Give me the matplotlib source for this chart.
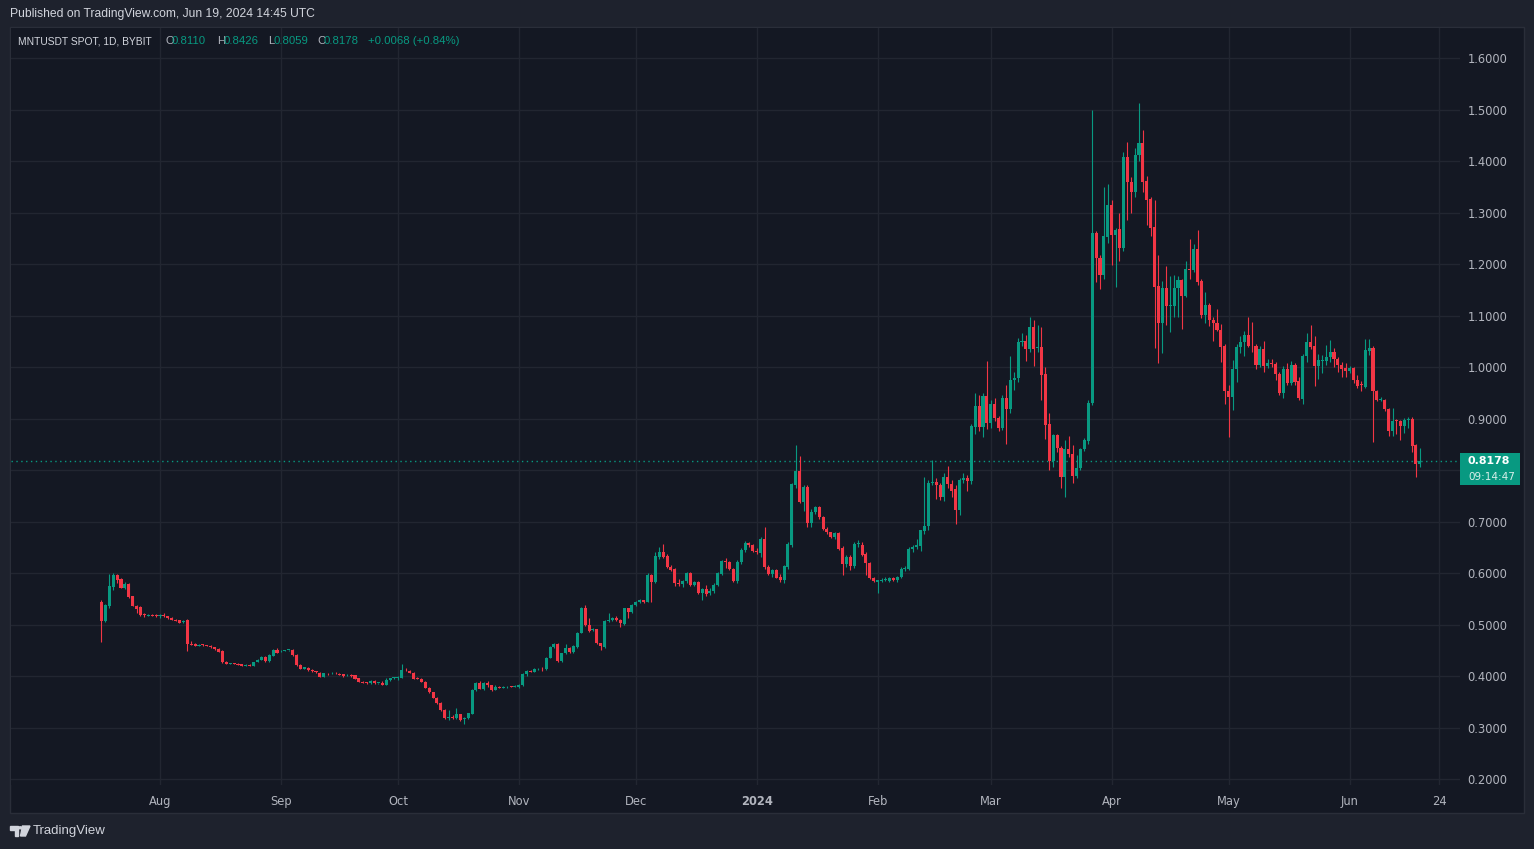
import matplotlib
matplotlib.use("Agg")
import matplotlib.pyplot as plt
import matplotlib.dates as mdates
from matplotlib.patches import Rectangle, Polygon, Circle
import numpy as np
import pandas as pd

# ── daily candles MNTUSDT (Bybit), 2023-07-17 .. 2024-06-19 ─────────────────
start_date = "2023-07-17"

opens = [
    # Jul
    0.544, 0.507, 0.536, 0.573, 0.596, 0.588, 0.571, 0.579, 0.555, 0.536, 0.534, 0.519, 0.517, 0.519, 0.518,
    # Aug
    0.516, 0.519, 0.516, 0.513, 0.509, 0.508, 0.504, 0.509, 0.462, 0.462, 0.459, 0.461, 0.460, 0.459, 0.456, 0.453,
    0.449, 0.428, 0.424, 0.425, 0.424, 0.423, 0.420, 0.422, 0.420, 0.428, 0.432, 0.437, 0.429, 0.439, 0.451,
    # Sep
    0.448, 0.449, 0.450, 0.451, 0.441, 0.422, 0.414, 0.416, 0.412, 0.409, 0.406, 0.399, 0.404, 0.405, 0.406,
    0.404, 0.403, 0.401, 0.402, 0.401, 0.396, 0.389, 0.388, 0.386, 0.391, 0.386, 0.386, 0.383, 0.392, 0.396,
    # Oct
    0.397, 0.397, 0.412, 0.410, 0.406, 0.396, 0.395, 0.389, 0.377, 0.368, 0.358, 0.348, 0.334, 0.318, 0.321, 0.318,
    0.326, 0.316, 0.318, 0.327, 0.373, 0.387, 0.375, 0.386, 0.382, 0.373, 0.378, 0.377, 0.378, 0.380, 0.379,
    # Nov
    0.379, 0.382, 0.404, 0.410, 0.408, 0.413, 0.414, 0.413, 0.435, 0.456, 0.462, 0.429, 0.444, 0.454, 0.447,
    0.456, 0.484, 0.532, 0.499, 0.490, 0.491, 0.464, 0.456, 0.506, 0.508, 0.513, 0.509, 0.501, 0.532, 0.525,
    # Dec
    0.538, 0.543, 0.547, 0.544, 0.596, 0.582, 0.631, 0.641, 0.633, 0.612, 0.608, 0.580, 0.578, 0.584, 0.600, 0.577,
    0.582, 0.561, 0.568, 0.561, 0.565, 0.577, 0.599, 0.623, 0.621, 0.607, 0.585, 0.621, 0.645, 0.658, 0.654,
    # Jan
    0.642, 0.639, 0.666, 0.612, 0.598, 0.605, 0.593, 0.586, 0.612, 0.654, 0.771, 0.798, 0.738, 0.767, 0.697, 0.719,
    0.729, 0.709, 0.686, 0.679, 0.670, 0.677, 0.649, 0.617, 0.631, 0.613, 0.657, 0.655, 0.637, 0.620, 0.590,
    # Feb
    0.583, 0.585, 0.586, 0.585, 0.590, 0.586, 0.592, 0.608, 0.608, 0.647, 0.651, 0.652, 0.682, 0.691, 0.775,
    0.776, 0.771, 0.748, 0.787, 0.773, 0.763, 0.722, 0.780, 0.784, 0.779, 0.884, 0.924, 0.884, 0.944,
    # Mar
    0.892, 0.929, 0.901, 0.882, 0.940, 0.918, 0.975, 0.979, 1.049, 1.050, 1.035, 1.077, 1.036, 1.039, 0.986, 0.889,
    0.817, 0.868, 0.843, 0.786, 0.840, 0.831, 0.788, 0.803, 0.840, 0.857, 0.930, 1.260, 1.212, 1.179, 1.252,
    # Apr
    1.314, 1.257, 1.268, 1.232, 1.408, 1.360, 1.339, 1.412, 1.435, 1.361, 1.326, 1.272, 1.157, 1.085, 1.153,
    1.118, 1.119, 1.153, 1.169, 1.138, 1.190, 1.188, 1.229, 1.167, 1.101, 1.120, 1.091, 1.086, 1.072, 1.041,
    # May
    0.954, 0.942, 0.996, 1.039, 1.049, 1.062, 1.041, 1.041, 1.004, 1.035, 1.001, 1.008, 1.006, 0.986, 0.950, 0.996,
    0.969, 1.004, 0.973, 0.937, 1.021, 1.049, 1.041, 1.001, 1.012, 1.012, 1.020, 1.029, 1.016, 1.003, 0.998,
    # Jun
    0.993, 0.998, 0.975, 0.966, 0.962, 1.032, 1.037, 0.954, 0.936, 0.935, 0.919, 0.876, 0.896, 0.896, 0.886,
    0.897, 0.899, 0.849, 0.8110,
]

highs = [
    0.548, 0.540, 0.598, 0.600, 0.598, 0.590, 0.582, 0.581, 0.556, 0.537, 0.535, 0.522, 0.520, 0.520, 0.520,
    0.520, 0.523, 0.517, 0.514, 0.510, 0.509, 0.508, 0.510, 0.468, 0.464, 0.462, 0.462, 0.461, 0.460, 0.457, 0.454,
    0.450, 0.430, 0.426, 0.426, 0.425, 0.424, 0.424, 0.423, 0.428, 0.433, 0.438, 0.439, 0.442, 0.452, 0.455,
    0.451, 0.451, 0.451, 0.453, 0.442, 0.423, 0.418, 0.417, 0.413, 0.410, 0.407, 0.406, 0.405, 0.407, 0.407,
    0.405, 0.404, 0.404, 0.403, 0.402, 0.397, 0.390, 0.389, 0.392, 0.392, 0.387, 0.391, 0.397, 0.397, 0.398,
    0.400, 0.423, 0.415, 0.411, 0.407, 0.398, 0.396, 0.390, 0.378, 0.369, 0.359, 0.349, 0.335, 0.334, 0.325, 0.337,
    0.327, 0.320, 0.329, 0.375, 0.389, 0.390, 0.388, 0.391, 0.383, 0.382, 0.380, 0.381, 0.380, 0.381, 0.382,
    0.384, 0.406, 0.412, 0.411, 0.415, 0.416, 0.418, 0.437, 0.458, 0.465, 0.464, 0.445, 0.462, 0.456, 0.460,
    0.485, 0.534, 0.537, 0.513, 0.494, 0.492, 0.465, 0.508, 0.522, 0.514, 0.516, 0.510, 0.533, 0.533, 0.540,
    0.545, 0.549, 0.548, 0.600, 0.599, 0.640, 0.650, 0.656, 0.636, 0.615, 0.610, 0.588, 0.586, 0.602, 0.601, 0.585,
    0.584, 0.570, 0.577, 0.570, 0.580, 0.602, 0.626, 0.630, 0.624, 0.609, 0.625, 0.648, 0.662, 0.660, 0.656,
    0.648, 0.669, 0.689, 0.616, 0.607, 0.607, 0.598, 0.615, 0.660, 0.775, 0.848, 0.827, 0.770, 0.770, 0.725, 0.730,
    0.731, 0.711, 0.690, 0.680, 0.680, 0.679, 0.652, 0.634, 0.635, 0.660, 0.665, 0.660, 0.640, 0.622, 0.592,
    0.587, 0.590, 0.592, 0.592, 0.592, 0.595, 0.612, 0.614, 0.650, 0.655, 0.666, 0.684, 0.786, 0.780, 0.819,
    0.784, 0.775, 0.795, 0.807, 0.780, 0.770, 0.785, 0.794, 0.790, 0.890, 0.950, 0.945, 0.950, 1.012,
    0.935, 0.940, 0.905, 0.945, 0.966, 1.021, 0.990, 1.056, 1.066, 1.063, 1.097, 1.092, 1.082, 1.078, 1.000, 0.910,
    0.870, 0.870, 0.846, 0.858, 0.866, 0.848, 0.829, 0.843, 0.862, 0.935, 1.499, 1.265, 1.218, 1.350, 1.356,
    1.325, 1.270, 1.300, 1.418, 1.436, 1.368, 1.425, 1.513, 1.460, 1.370, 1.330, 1.325, 1.217, 1.167, 1.196,
    1.177, 1.179, 1.177, 1.171, 1.205, 1.249, 1.239, 1.266, 1.170, 1.146, 1.125, 1.097, 1.113, 1.083, 1.045,
    0.965, 1.014, 1.045, 1.060, 1.070, 1.097, 1.087, 1.045, 1.040, 1.050, 1.015, 1.015, 1.010, 0.990, 1.002, 1.008,
    1.012, 1.008, 0.980, 1.025, 1.067, 1.081, 1.060, 1.025, 1.023, 1.043, 1.052, 1.037, 1.020, 1.010, 1.008,
    1.002, 1.000, 0.985, 0.972, 1.054, 1.054, 1.040, 0.956, 0.941, 0.937, 0.921, 0.920, 0.899, 0.898, 0.901,
    0.902, 0.902, 0.851, 0.8426,
]

lows = [
    0.466, 0.505, 0.532, 0.567, 0.580, 0.570, 0.569, 0.552, 0.535, 0.522, 0.517, 0.515, 0.516, 0.516, 0.515,
    0.513, 0.515, 0.511, 0.508, 0.506, 0.502, 0.503, 0.449, 0.460, 0.458, 0.458, 0.459, 0.458, 0.455, 0.451, 0.446,
    0.426, 0.423, 0.423, 0.423, 0.421, 0.419, 0.419, 0.419, 0.419, 0.427, 0.431, 0.428, 0.428, 0.438, 0.444,
    0.446, 0.448, 0.449, 0.439, 0.420, 0.413, 0.413, 0.410, 0.408, 0.406, 0.398, 0.398, 0.402, 0.404, 0.404,
    0.401, 0.399, 0.400, 0.399, 0.394, 0.388, 0.386, 0.385, 0.385, 0.385, 0.385, 0.382, 0.382, 0.391, 0.395,
    0.393, 0.396, 0.409, 0.405, 0.394, 0.394, 0.388, 0.376, 0.367, 0.357, 0.346, 0.333, 0.317, 0.315, 0.317, 0.316,
    0.312, 0.307, 0.316, 0.326, 0.371, 0.374, 0.373, 0.378, 0.371, 0.372, 0.376, 0.376, 0.377, 0.378, 0.378,
    0.377, 0.381, 0.400, 0.407, 0.407, 0.412, 0.410, 0.412, 0.434, 0.455, 0.428, 0.428, 0.443, 0.445, 0.444,
    0.455, 0.483, 0.497, 0.486, 0.487, 0.463, 0.451, 0.455, 0.505, 0.507, 0.507, 0.496, 0.500, 0.513, 0.523,
    0.536, 0.542, 0.541, 0.543, 0.544, 0.580, 0.628, 0.630, 0.610, 0.604, 0.575, 0.575, 0.573, 0.580, 0.575, 0.575,
    0.559, 0.548, 0.556, 0.558, 0.562, 0.575, 0.597, 0.610, 0.605, 0.583, 0.580, 0.618, 0.641, 0.650, 0.640,
    0.636, 0.632, 0.607, 0.596, 0.593, 0.590, 0.583, 0.580, 0.608, 0.650, 0.765, 0.735, 0.720, 0.690, 0.690, 0.715,
    0.705, 0.684, 0.676, 0.668, 0.667, 0.645, 0.597, 0.612, 0.605, 0.610, 0.650, 0.633, 0.597, 0.589, 0.582,
    0.561, 0.583, 0.584, 0.583, 0.584, 0.583, 0.590, 0.604, 0.606, 0.640, 0.646, 0.642, 0.675, 0.683, 0.770,
    0.744, 0.741, 0.740, 0.765, 0.748, 0.695, 0.712, 0.775, 0.760, 0.772, 0.870, 0.875, 0.865, 0.880,
    0.882, 0.895, 0.875, 0.878, 0.850, 0.910, 0.955, 0.970, 1.040, 1.012, 1.030, 1.002, 1.030, 0.935, 0.860, 0.800,
    0.805, 0.835, 0.765, 0.747, 0.825, 0.775, 0.784, 0.800, 0.836, 0.850, 0.927, 1.165, 1.152, 1.170, 1.240,
    1.198, 1.156, 1.205, 1.225, 1.285, 1.300, 1.330, 1.400, 1.340, 1.275, 1.255, 1.037, 1.008, 1.027, 1.082,
    1.068, 1.097, 1.097, 1.074, 1.135, 1.170, 1.185, 1.160, 1.095, 1.086, 1.079, 1.051, 1.070, 1.010, 0.928,
    0.864, 0.917, 0.971, 1.027, 1.022, 1.038, 1.030, 0.997, 1.000, 0.990, 0.999, 1.000, 0.975, 0.945, 0.940, 0.965,
    0.965, 0.966, 0.935, 0.928, 1.010, 1.035, 0.964, 0.977, 0.989, 1.004, 1.010, 1.000, 0.990, 0.980, 0.980,
    0.989, 0.969, 0.960, 0.953, 0.960, 1.023, 0.854, 0.934, 0.934, 0.915, 0.866, 0.866, 0.869, 0.859, 0.872,
    0.881, 0.835, 0.786, 0.8059,
]

closes = [
    0.507, 0.538, 0.575, 0.596, 0.586, 0.571, 0.579, 0.553, 0.536, 0.530, 0.518, 0.518, 0.519, 0.517, 0.517,
    0.519, 0.516, 0.512, 0.509, 0.507, 0.503, 0.507, 0.462, 0.461, 0.459, 0.461, 0.460, 0.459, 0.456, 0.452, 0.447,
    0.427, 0.424, 0.425, 0.424, 0.422, 0.420, 0.422, 0.420, 0.427, 0.432, 0.437, 0.429, 0.441, 0.451, 0.445,
    0.449, 0.450, 0.451, 0.440, 0.421, 0.414, 0.417, 0.411, 0.409, 0.407, 0.399, 0.405, 0.403, 0.406, 0.405,
    0.402, 0.400, 0.402, 0.400, 0.395, 0.389, 0.387, 0.386, 0.391, 0.386, 0.386, 0.383, 0.392, 0.396, 0.397,
    0.398, 0.412, 0.411, 0.406, 0.395, 0.395, 0.389, 0.377, 0.368, 0.358, 0.347, 0.334, 0.319, 0.319, 0.318, 0.326,
    0.314, 0.318, 0.328, 0.373, 0.387, 0.375, 0.386, 0.382, 0.372, 0.378, 0.377, 0.378, 0.379, 0.379, 0.380,
    0.383, 0.404, 0.410, 0.408, 0.413, 0.414, 0.413, 0.435, 0.456, 0.462, 0.429, 0.444, 0.454, 0.446, 0.458,
    0.484, 0.532, 0.499, 0.488, 0.491, 0.464, 0.458, 0.507, 0.508, 0.513, 0.508, 0.503, 0.532, 0.525, 0.538,
    0.543, 0.547, 0.543, 0.596, 0.582, 0.633, 0.641, 0.632, 0.612, 0.606, 0.580, 0.579, 0.584, 0.600, 0.577, 0.583,
    0.561, 0.568, 0.560, 0.565, 0.577, 0.600, 0.623, 0.621, 0.607, 0.585, 0.621, 0.645, 0.658, 0.654, 0.642,
    0.641, 0.666, 0.612, 0.598, 0.605, 0.591, 0.586, 0.613, 0.656, 0.773, 0.798, 0.738, 0.767, 0.697, 0.719, 0.729,
    0.709, 0.686, 0.679, 0.670, 0.677, 0.647, 0.617, 0.631, 0.613, 0.657, 0.658, 0.635, 0.620, 0.590, 0.584,
    0.586, 0.586, 0.587, 0.590, 0.586, 0.592, 0.608, 0.609, 0.647, 0.651, 0.654, 0.683, 0.691, 0.775, 0.777,
    0.770, 0.748, 0.787, 0.772, 0.760, 0.722, 0.780, 0.784, 0.778, 0.886, 0.924, 0.884, 0.944, 0.892,
    0.929, 0.901, 0.881, 0.940, 0.918, 0.975, 0.979, 1.049, 1.050, 1.035, 1.077, 1.035, 1.038, 0.984, 0.887, 0.817,
    0.868, 0.843, 0.786, 0.840, 0.831, 0.788, 0.804, 0.840, 0.859, 0.931, 1.260, 1.212, 1.179, 1.255, 1.314,
    1.257, 1.266, 1.232, 1.408, 1.360, 1.339, 1.412, 1.435, 1.360, 1.324, 1.270, 1.155, 1.085, 1.153, 1.118,
    1.119, 1.153, 1.169, 1.138, 1.190, 1.189, 1.229, 1.166, 1.101, 1.120, 1.091, 1.086, 1.072, 1.039, 0.953,
    0.942, 0.996, 1.039, 1.049, 1.062, 1.041, 1.040, 1.004, 1.035, 1.001, 1.008, 1.006, 0.986, 0.950, 0.996, 0.969,
    1.004, 0.970, 0.940, 1.021, 1.048, 1.039, 1.001, 1.014, 1.013, 1.020, 1.029, 1.016, 1.003, 0.996, 0.993,
    0.998, 0.975, 0.964, 0.965, 1.033, 1.036, 0.954, 0.936, 0.937, 0.918, 0.876, 0.896, 0.895, 0.886, 0.897,
    0.899, 0.847, 0.811, 0.8178,
]

price_ticks = [0.2, 0.3, 0.4, 0.5, 0.6, 0.7, 0.8, 0.9, 1.0, 1.1, 1.2, 1.3, 1.4, 1.5, 1.6]
time_ticks = ["2023-08-01", "2023-09-01", "2023-10-01", "2023-11-01", "2023-12-01", "2024-01-01",
              "2024-02-01", "2024-03-01", "2024-04-01", "2024-05-01", "2024-06-01", "2024-06-24"]
time_labels = ["Aug", "Sep", "Oct", "Nov", "Dec", "2024", "Feb", "Mar", "Apr", "May", "Jun", "24"]

last_price = 0.8178
countdown = "09:14:47"

# ── style ────────────────────────────────────────────────────────────────────
W, H = 1534, 849
BG_OUT = "#1e222d"
BG_PANEL = "#141823"
GRID = "#222631"
TXT = "#b2b5be"
UP = "#089981"
DOWN = "#f23645"
HEAD_FONT = ["Liberation Sans", "DejaVu Sans"]
PX = 1 / 515  # one pixel in price units


def fx(px):
    return px / W


def fy(py):
    return 1 - py / H


fig = plt.figure(figsize=(W / 100, H / 100), dpi=100, facecolor=BG_OUT)

# chart panel
fig.add_artist(Rectangle((fx(10), fy(813)), (1524 - 10) / W, (813 - 27) / H,
                         transform=fig.transFigure, facecolor=BG_PANEL,
                         edgecolor="#2a2e39", lw=1, zorder=-2))

ax = fig.add_axes([fx(11), fy(785), (1460 - 11) / W, (785 - 28) / H])
ax.set_facecolor(BG_PANEL)

dates = pd.date_range(start_date, periods=len(closes), freq="D")
x = mdates.date2num(dates.to_pydatetime())
o = np.array(opens)
h = np.array(highs)
l = np.array(lows)
c = np.array(closes)
up = c >= o
colors = np.where(up, UP, DOWN)

ax.vlines(x, l, h, colors=colors, lw=0.8, zorder=3)
body = np.maximum(np.abs(c - o), 0.0015)
ax.bar(x, body, bottom=np.minimum(o, c), width=0.78, color=colors, lw=0, zorder=4)

# last price line
ax.axhline(last_price, color=UP, lw=1, ls=(0, (1, 2.5)), zorder=2)

# axes limits (px calibrated)
x0 = mdates.date2num(pd.Timestamp(start_date).to_pydatetime())
ax.set_xlim(x0 - 23.2, x0 + 348.3)
ax.set_ylim(0.18835, 1.6583)

tx = mdates.date2num(pd.to_datetime(time_ticks).to_pydatetime())
ax.set_xticks(tx)
ax.set_xticklabels(time_labels)
for lab in ax.get_xticklabels():
    if lab.get_text() == "2024":
        lab.set_fontweight("bold")
ax.set_yticks(price_ticks)
# the 0.8000 label sits under the last-price tag, so it is left blank
ax.set_yticklabels(["" if abs(v - 0.8) < 1e-9 else f"{v:.4f}" for v in price_ticks])
ax.yaxis.tick_right()
ax.tick_params(axis="both", length=0, colors=TXT, labelsize=8.3)
ax.tick_params(axis="x", pad=7)
ax.tick_params(axis="y", pad=5.5)
ax.grid(True, color=GRID, lw=1)
ax.set_axisbelow(True)
for s in ax.spines.values():
    s.set_visible(False)

# price label on the scale
ytr = ax.get_yaxis_transform()
ax.add_patch(Rectangle((1.0003, last_price - 24 * PX), (1520 - 1460.5) / 1449, 32 * PX,
                       transform=ytr, facecolor=UP, edgecolor="none", clip_on=False, zorder=5))
ax.text(1.0055, last_price - 0.5 * PX, f"{last_price:.4f}", transform=ytr, color="white",
        fontsize=7.9, fontweight="bold", va="center", ha="left", clip_on=False, zorder=6)
ax.text(1.0055, last_price - 16.5 * PX, countdown, transform=ytr, color="#d8efea",
        fontsize=7.5, va="center", ha="left", clip_on=False, zorder=6)

# header
fig.text(fx(10), fy(14), "Published on TradingView.com, Jun 19, 2024 14:45 UTC",
         color="#d1d4dc", fontsize=8.7, va="center", ha="left", family=HEAD_FONT)
fig.text(fx(18), fy(41), "MNTUSDT SPOT, 1D, BYBIT", color="#d1d4dc", fontsize=7.4,
         va="center", family=HEAD_FONT)
legend_parts = [
    (165, "O", TXT), (172, "0.8110", UP),
    (217, "H", TXT), (224, "0.8426", UP),
    (268, "L", TXT), (274, "0.8059", UP),
    (317, "C", TXT), (324, "0.8178", UP),
    (368, "+0.0068 (+0.84%)", UP),
]
for px, txt, col in legend_parts:
    fig.text(fx(px), fy(41), txt, color=col, fontsize=8.2, va="center", family=HEAD_FONT)

# TradingView logo
logo_col = "#d1d4dc"
fig.add_artist(Polygon([(fx(10), fy(826)), (fx(18), fy(826)), (fx(18), fy(836)),
                        (fx(14.5), fy(836)), (fx(14.5), fy(829.5)), (fx(10), fy(829.5))],
                       closed=True, transform=fig.transFigure, color=logo_col))
fig.add_artist(Polygon([(fx(22.5), fy(826)), (fx(30), fy(826)), (fx(25.5), fy(836)),
                        (fx(20.5), fy(836))],
                       closed=True, transform=fig.transFigure, color=logo_col))
fig.add_artist(Circle((fx(20.3), fy(827.8)), 1.8 / W, transform=fig.transFigure, color=logo_col))
fig.text(fx(33), fy(831), "TradingView", color=logo_col, fontsize=9.5, va="center", family=HEAD_FONT)

fig.savefig("out.png", dpi=100, facecolor=BG_OUT)
